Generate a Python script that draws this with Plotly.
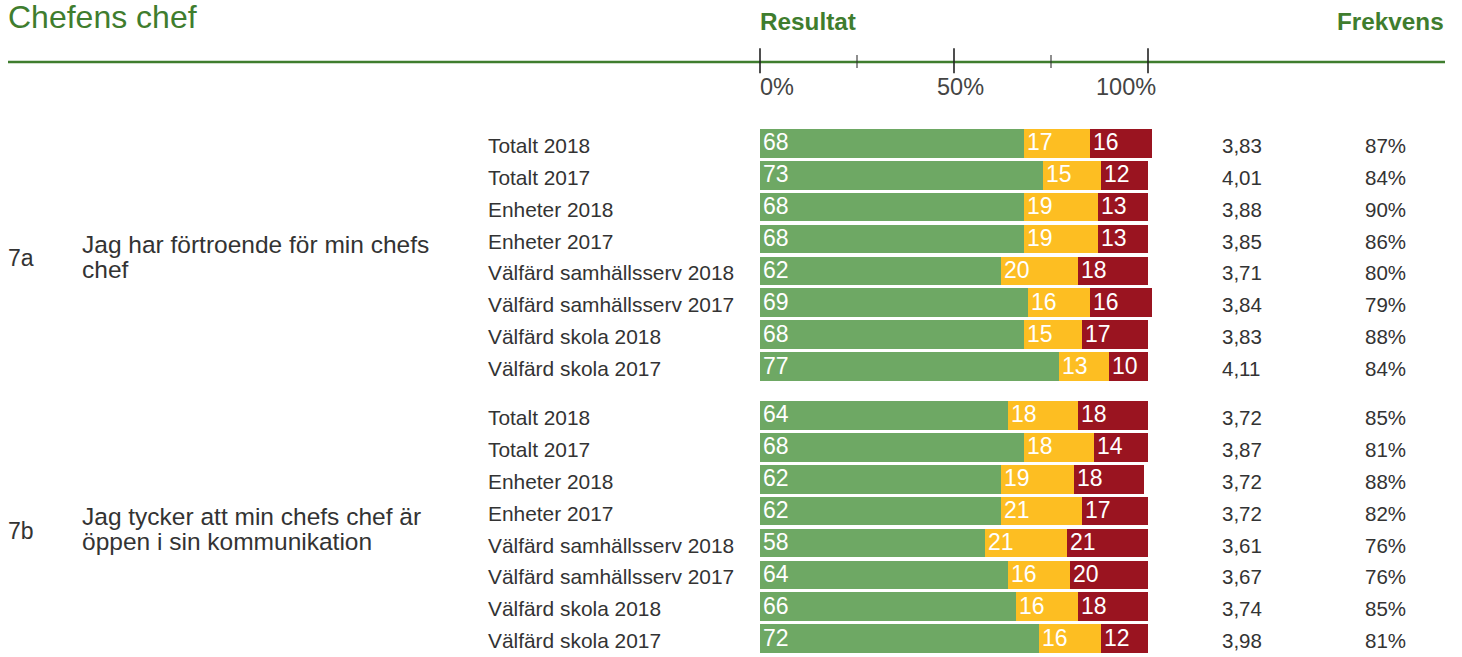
import plotly.graph_objects as go

# ---- data -------------------------------------------------------------
questions = ["7a", "7b"]
question_lines = [
    ["Jag har förtroende för min chefs", "chef"],
    ["Jag tycker att min chefs chef är", "öppen i sin kommunikation"],
]
row_labels = [
    "Totalt 2018", "Totalt 2017", "Enheter 2018", "Enheter 2017",
    "Välfärd samhällsserv 2018", "Välfärd samhällsserv 2017",
    "Välfärd skola 2018", "Välfärd skola 2017",
]
positive = [68, 73, 68, 68, 62, 69, 68, 77,
            64, 68, 62, 62, 58, 64, 66, 72]
neutral = [17, 15, 19, 19, 20, 16, 15, 13,
           18, 18, 19, 21, 21, 16, 16, 16]
negative = [16, 12, 13, 13, 18, 16, 17, 10,
            18, 14, 18, 17, 21, 20, 18, 12]
mean_score = [3.83, 4.01, 3.88, 3.85, 3.71, 3.84, 3.83, 4.11,
              3.72, 3.87, 3.72, 3.72, 3.61, 3.67, 3.74, 3.98]
frequency = [87, 84, 90, 86, 80, 79, 88, 84,
             85, 81, 88, 82, 76, 76, 85, 81]
scale_ticks = [0, 25, 50, 75, 100]
scale_labels = {0: "0%", 50: "50%", 100: "100%"}

# ---- layout constants (canvas in pixels) --------------------------------
W, H = 1462, 657
X0_PX, X100_PX = 760, 1148          # where 0% and 100% sit on the canvas
PX_PER_UNIT = (X100_PX - X0_PX) / 100.0
x_range = [-X0_PX / PX_PER_UNIT, (W - X0_PX) / PX_PER_UNIT]


def px_to_x(px):
    return (px - X0_PX) / PX_PER_UNIT


FIRST_ROW = 143.3
PITCH = 31.9
GROUP_GAP = 16.9
BAR_H = 28.7
ROWS_PER_GROUP = len(row_labels)

GREEN = "#3f7d2e"
TEXT = "#333333"
FONT = "Liberation Sans, Arial, sans-serif"

n_rows = len(positive)
ys = [FIRST_ROW + i * PITCH + (i // ROWS_PER_GROUP) * GROUP_GAP for i in range(n_rows)]

fig = go.Figure()
for vals, color in ((positive, "#6ea864"), (neutral, "#fdbe22"), (negative, "#9a1420")):
    fig.add_trace(go.Bar(
        x=vals, y=ys, orientation="h", width=BAR_H,
        marker=dict(color=color, line=dict(width=0)),
        hoverinfo="skip", showlegend=False,
    ))

annotations = []


def label(x, y, text, size, color=TEXT, xanchor="left", xref="x", bold=False, yshift=0, xshift=0):
    # annotation boxes carry ~2px of padding; compensate so the glyphs sit at x
    pad = {"left": -2, "right": 2, "center": 0}[xanchor]
    annotations.append(dict(
        x=x, y=y, xref=xref, yref="y", text=f"<b>{text}</b>" if bold else text,
        showarrow=False, xanchor=xanchor, yanchor="middle",
        font=dict(family=FONT, size=size, color=color),
        yshift=yshift, xshift=xshift + pad,
    ))


# value labels inside each segment
for i in range(n_rows):
    starts = [0, positive[i], positive[i] + neutral[i]]
    for s, v in zip(starts, (positive[i], neutral[i], negative[i])):
        label(s, ys[i], str(v), 23, color="white", xshift=3, yshift=1)
    # row name, mean score and response rate
    label(px_to_x(488), ys[i], row_labels[i % ROWS_PER_GROUP], 20.9, yshift=-2)
    label(px_to_x(1222), ys[i], f"{mean_score[i]:.2f}".replace(".", ","), 20.5, yshift=-2)
    label(px_to_x(1365), ys[i], f"{frequency[i]}%", 20.5, yshift=-2)

# question id and text per group
for g, (qid, lines) in enumerate(zip(questions, question_lines)):
    grp = ys[g * ROWS_PER_GROUP:(g + 1) * ROWS_PER_GROUP]
    mid = (grp[0] + grp[-1]) / 2
    label(px_to_x(8), mid + 1.5, qid, 23, yshift=-2)
    for k, line in enumerate(lines):
        label(px_to_x(82), mid - 12.5 + 25 * k, line, 24.5, yshift=-2)

# header texts
label(px_to_x(8), 15, "Chefens chef", 32, color=GREEN, yshift=-2)
label(0, 19, "Resultat", 24.3, color=GREEN, bold=True, yshift=-2)
label(px_to_x(1444), 19, "Frekvens", 24.3, color=GREEN, bold=True, xanchor="right", yshift=-2)

# scale labels
label(0, 85, scale_labels[0], 23.5, color="#444444", yshift=-2)
label(px_to_x(960), 85, scale_labels[50], 23.5, color="#444444", xanchor="center", yshift=-2)
label(px_to_x(1156), 85, scale_labels[100], 23.5, color="#444444", xanchor="right", yshift=-2)

shapes = [dict(type="line", xref="paper", yref="y", x0=8 / W, x1=1445 / W, y0=62, y1=62,
               line=dict(color=GREEN, width=2.5))]
for t in scale_ticks:
    major = t in scale_labels
    shapes.append(dict(
        type="line", xref="x", yref="y", x0=t, x1=t,
        y0=48.3 if major else 55, y1=73.3 if major else 68,
        line=dict(color="#222222" if major else "#333333", width=1.6 if major else 1.1),
    ))

fig.update_layout(
    width=W, height=H,
    margin=dict(l=0, r=0, t=0, b=0, pad=0),
    paper_bgcolor="white", plot_bgcolor="white",
    barmode="stack", bargap=0,
    xaxis=dict(range=x_range, visible=False, fixedrange=True),
    yaxis=dict(range=[H, 0], visible=False, fixedrange=True),
    annotations=annotations, shapes=shapes,
    hovermode=False,
)

fig.write_html("out.html", config={"displayModeBar": False})
